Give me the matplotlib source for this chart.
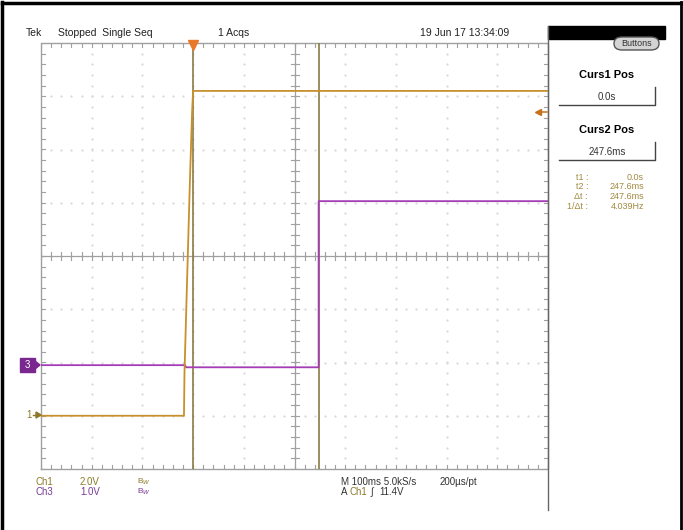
import numpy as np
import matplotlib
matplotlib.use("Agg")
import matplotlib.pyplot as plt
from matplotlib.patches import Rectangle, FancyBboxPatch, Polygon

plt.rcParams['font.family'] = ['Liberation Sans Narrow', 'Liberation Sans', 'DejaVu Sans']

# ---- scope data (time in ms, voltage in V) ----
ch1_t = [-300, -18, -17, -12, -6, -2, 0, 700]
ch1_v = [0.0, 0.0, 1.6, 5.0, 9.0, 11.4, 12.2, 12.2]
ch3_t = [-300, -16, -14, 247.6, 247.6, 700]
ch3_v = [0.0, 0.0, -0.04, -0.04, 3.08, 3.08]

ch1_scale = 2.0      # V/div
ch3_scale = 1.0
ch1_offset = -3.0    # div
ch3_offset = -2.05
trig_level = 11.4    # V
cursors = [0.0, 247.6]   # ms

t_min, t_max = -300, 700
header_texts = ["Tek", "Stopped  Single Seq", "1 Acqs", "19 Jun 17 13:34:09"]
readout_labels = ["t1 :", "t2 :", "\u0394t :", "1/\u0394t :"]
readout_values = ["0.0s", "247.6ms", "247.6ms", "4.039Hz"]

W, H = 683, 530
C1 = '#c8902c'
C1_TXT = '#8c7a28'
C3 = '#a33cb5'
C3_TXT = '#7a3a98'
CUR = '#8a7a44'
GRID = '#a0a0a0'


def fx(x):
    return x / W


def fy(y):
    return 1 - y / H


fig = plt.figure(figsize=(W / 100, H / 100), dpi=100)

# graticule axes: 10 x 8 divisions
gl, gr, gt, gb = 41, 548, 43, 469
ax = fig.add_axes([fx(gl), fy(gb), (gr - gl) / W, (gb - gt) / H])
ax.set_xlim(t_min, t_max)
ax.set_ylim(-4, 4)
ax.axis('off')

ms_px = (t_max - t_min) / (gr - gl)
div_px = 8 / (gb - gt)

# dotted division lines (faint)
for i in range(1, 10):
    x = t_min + i * 100
    ys = np.arange(-4, 4.01, 0.2)
    ax.plot([x] * len(ys), ys, ls='none', marker='s', ms=0.6, color='#dadada')
for j in range(-3, 4):
    xs = np.arange(t_min, t_max + 1, 20)
    ax.plot(xs, [j] * len(xs), ls='none', marker='s', ms=0.6, color='#dadada')

# frame + center axes with minor ticks
ax.plot([t_min, t_max, t_max, t_min, t_min], [-4, -4, 4, 4, -4], color=GRID, lw=1, clip_on=False)
ax.axhline(0, color=GRID, lw=0.9)
ax.axvline(200, color=GRID, lw=0.9)
tx = np.arange(t_min, t_max + 1, 20)
ty = np.arange(-4, 4.01, 0.2)
for x in tx:
    ax.plot([x, x], [-4 * div_px, 4 * div_px], color=GRID, lw=0.8)
    ax.plot([x, x], [4, 4 - 4 * div_px], color=GRID, lw=0.8)
    ax.plot([x, x], [-4, -4 + 4 * div_px], color=GRID, lw=0.8)
for y in ty:
    ax.plot([200 - 4 * ms_px, 200 + 4 * ms_px], [y, y], color=GRID, lw=0.8)
    ax.plot([t_min, t_min + 4 * ms_px], [y, y], color=GRID, lw=0.8)
    ax.plot([t_max, t_max - 4 * ms_px], [y, y], color=GRID, lw=0.8)

# cursors
for c in cursors:
    ax.axvline(c, color=CUR, lw=1.2)

# traces
ch1_y = np.array(ch1_v) / ch1_scale + ch1_offset
ch3_y = np.array(ch3_v) / ch3_scale + ch3_offset
ax.plot(ch3_t, ch3_y, color=C3, lw=1.3)
ax.plot(ch1_t, ch1_y, color=C1, lw=1.3)

# trigger position marker at top
ax.plot([0], [4 - 2 * div_px], marker='v', ms=7, color='#e8782a', clip_on=False)
# trigger level marker on right (left-pointing arrow)
lvl = trig_level / ch1_scale + ch1_offset
ax.plot([t_max - 10 * ms_px, t_max - 1 * ms_px], [lvl, lvl], color='#c8701c', lw=1.1, zorder=6)
ax.plot([t_max - 10 * ms_px], [lvl], marker='<', ms=4, color='#c8701c', zorder=6)

# ground markers
fig.patches.append(Rectangle((fx(20), fy(372)), 15 / W, 14 / H, transform=fig.transFigure,
                             color='#7a2890', zorder=5))
fig.text(fx(27.5), fy(365), '3', color='white', fontsize=7, ha='center', va='center', zorder=6)
fig.patches.append(Polygon([[fx(35), fy(361)], [fx(40), fy(365)], [fx(35), fy(369)]],
                           closed=True, transform=fig.transFigure, color='#7a2890', zorder=5))
fig.text(fx(29), fy(415), '1', color=C1_TXT, fontsize=7, ha='center', va='center')
fig.add_artist(plt.Line2D([fx(33), fx(40)], [fy(415), fy(415)], color=C1_TXT, lw=1))
fig.patches.append(Polygon([[fx(36), fy(412)], [fx(41), fy(415)], [fx(36), fy(418)]],
                           closed=True, transform=fig.transFigure, color=C1_TXT))

# header
fig.text(fx(26), fy(33), header_texts[0], fontsize=7.5, va='center', color='#222')
fig.text(fx(58), fy(33), header_texts[1], fontsize=7.5, va='center', color='#222')
fig.text(fx(218), fy(33), header_texts[2], fontsize=7.5, va='center', color='#222')
fig.text(fx(420), fy(33), header_texts[3], fontsize=7.5, va='center', color='#222')

# right side panel
fig.patches.append(Rectangle((fx(548), fy(39)), 117 / W, 13 / H, transform=fig.transFigure,
                             color='black'))
fig.patches.append(FancyBboxPatch((fx(614), fy(50)), 45 / W, 13 / H,
                                  boxstyle='round,pad=0,rounding_size=0.012',
                                  transform=fig.transFigure, fc='#d4d4d4', ec='#555', lw=1))
fig.text(fx(636.5), fy(43.5), 'Buttons', fontsize=6.5, ha='center', va='center', color='#333')
fig.add_artist(plt.Line2D([fx(548), fx(548)], [fy(26), fy(510)], color='#666', lw=1))

fig.text(fx(607), fy(75), 'Curs1 Pos', fontsize=8, fontweight='bold', ha='center', va='center')
fig.text(fx(607), fy(97), '0.0s', fontsize=7, ha='center', va='center', color='#333')
fig.add_artist(plt.Line2D([fx(559), fx(655), fx(655)], [fy(105), fy(105), fy(87)], color='#444', lw=1))
fig.text(fx(607), fy(130), 'Curs2 Pos', fontsize=8, fontweight='bold', ha='center', va='center')
fig.text(fx(607), fy(152), '247.6ms', fontsize=7, ha='center', va='center', color='#333')
fig.add_artist(plt.Line2D([fx(559), fx(655), fx(655)], [fy(160), fy(160), fy(142)], color='#444', lw=1))

for k, (lab, val) in enumerate(zip(readout_labels, readout_values)):
    yy = fy(177 + 9.7 * k)
    fig.text(fx(588), yy, lab, fontsize=6.5, ha='right', va='center', color='#a08a40')
    fig.text(fx(644), yy, val, fontsize=6.5, ha='right', va='center', color='#a08a40')

# bottom readouts
fig.text(fx(35), fy(482), 'Ch1', fontsize=7, va='center', color=C1_TXT)
fig.text(fx(80), fy(482), '2.0V', fontsize=7, va='center', color=C1_TXT)
fig.text(fx(137), fy(482), 'B$_W$', fontsize=6, va='center', color=C1_TXT)
fig.text(fx(35), fy(492), 'Ch3', fontsize=7, va='center', color=C3_TXT)
fig.text(fx(80), fy(492), '1.0V', fontsize=7, va='center', color=C3_TXT)
fig.text(fx(137), fy(492), 'B$_W$', fontsize=6, va='center', color=C3_TXT)
fig.text(fx(341), fy(482), 'M 100ms 5.0kS/s', fontsize=7, va='center', color='#333')
fig.text(fx(440), fy(482), '200\u00b5s/pt', fontsize=7, va='center', color='#333')
fig.text(fx(341), fy(492), 'A', fontsize=7, va='center', color='#333')
fig.text(fx(350), fy(492), 'Ch1', fontsize=7, va='center', color=C1_TXT)
fig.text(fx(370), fy(492), '\u222b', fontsize=7, va='center', color='#333')
fig.text(fx(379), fy(492), '11.4V', fontsize=7, va='center', color='#333')

# outer border
fig.add_artist(plt.Line2D([fx(2), fx(2)], [0, fy(2)], color='black', lw=2.5))
fig.add_artist(plt.Line2D([fx(2), fx(681)], [fy(2.5), fy(2.5)], color='black', lw=2.5))
fig.add_artist(plt.Line2D([fx(681), fx(681)], [0, fy(2)], color='black', lw=2))

fig.savefig('out.png', dpi=100)
